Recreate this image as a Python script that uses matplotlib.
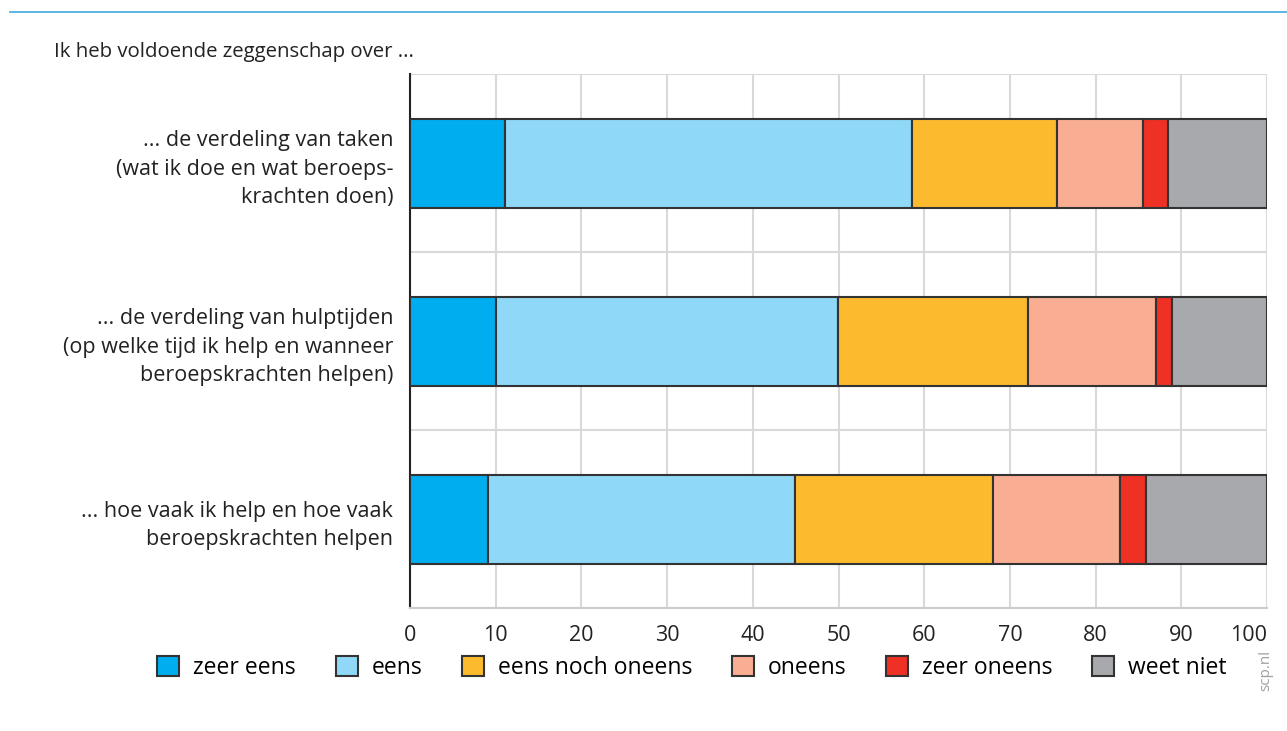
import matplotlib
matplotlib.use("Agg")
import matplotlib.pyplot as plt
import numpy as np

plt.rcParams['font.family'] = ['Open Sans', 'DejaVu Sans']

# categories, top to bottom
categories = [
    "... de verdeling van taken\n(wat ik doe en wat beroeps-\nkrachten doen)",
    "... de verdeling van hulptijden\n(op welke tijd ik help en wanneer\nberoepskrachten helpen)",
    "... hoe vaak ik help en hoe vaak\nberoepskrachten helpen",
]
series = ["zeer eens", "eens", "eens noch oneens", "oneens", "zeer oneens", "weet niet"]
zeer_eens = [11.1, 10.0, 9.1]
eens = [47.5, 39.9, 35.8]
noch = [16.9, 22.2, 23.1]
oneens = [10.0, 14.9, 14.8]
zeer_oneens = [2.9, 1.9, 3.1]
weet_niet = [11.6, 11.1, 14.1]
colors = ["#00aeef", "#8fd8f7", "#fcbb2f", "#f9ae93", "#ee3124", "#a7a9ac"]
xticks = list(range(0, 101, 10))

values = [zeer_eens, eens, noch, oneens, zeer_oneens, weet_niet]

fig = plt.figure(figsize=(12.87, 7.31), dpi=100)
ax = fig.add_axes([410/1287, 1-608/731, 857/1287, 534/731])

y = np.arange(len(categories))
left = np.zeros(len(categories))
for name, vals, c in zip(series, values, colors):
    ax.barh(y, vals, left=left, height=0.5, color=c, edgecolor="#333333",
            linewidth=1.5, label=name, zorder=3)
    left += np.array(vals)

ax.set_ylim(2.5, -0.5)
ax.set_xlim(0, 100)
ax.set_xticks(xticks)
ax.set_xticklabels([str(t) for t in xticks], fontsize=15.5, color="#222222")
# last label sits inside the right edge, as in the original
ax.get_xticklabels()[-1].set_horizontalalignment("right")
ax.set_yticks(y)
ax.set_yticklabels(categories, fontsize=15.5, color="#222222", linespacing=1.45)
ax.set_yticks(np.arange(-0.5, 2.6, 0.5), minor=True)
ax.tick_params(axis="both", length=0)
ax.tick_params(axis="y", which="minor", length=0)
ax.tick_params(axis="x", pad=12)
ax.tick_params(axis="y", pad=12)
ax.grid(axis="x", color="#d9d9d9", linewidth=1.5, zorder=0)
ax.grid(axis="y", which="minor", color="#d9d9d9", linewidth=1.5, zorder=0)
for s in ["top", "right"]:
    ax.spines[s].set_visible(False)
ax.spines["bottom"].set_color("#cccccc")
ax.spines["bottom"].set_linewidth(1.5)
ax.spines["left"].set_color("#222222")
ax.spines["left"].set_linewidth(1.5)

# top blue rule
fig.add_artist(plt.Line2D([10/1287, 1], [1-12/731, 1-12/731], color="#3fa9df",
                          linewidth=1.2, transform=fig.transFigure))
fig.text(54/1287, 1-52/731, "Ik heb voldoende zeggenschap over ...", fontsize=14.7,
         color="#222222", va="center", ha="left")

leg = fig.legend(loc="center", bbox_to_anchor=(692/1287, 1-668/731), ncol=6,
                 frameon=False, fontsize=16.5, handlelength=0.95, handleheight=0.95,
                 columnspacing=1.75, handletextpad=0.6)
for h in leg.legend_handles:
    h.set_linewidth(1.5)

fig.text(1266/1287, 1-670/731, "scp.nl", rotation=90, fontsize=11, color="#a0a0a0",
         ha="center", va="center")

fig.savefig("out.png", dpi=100)
